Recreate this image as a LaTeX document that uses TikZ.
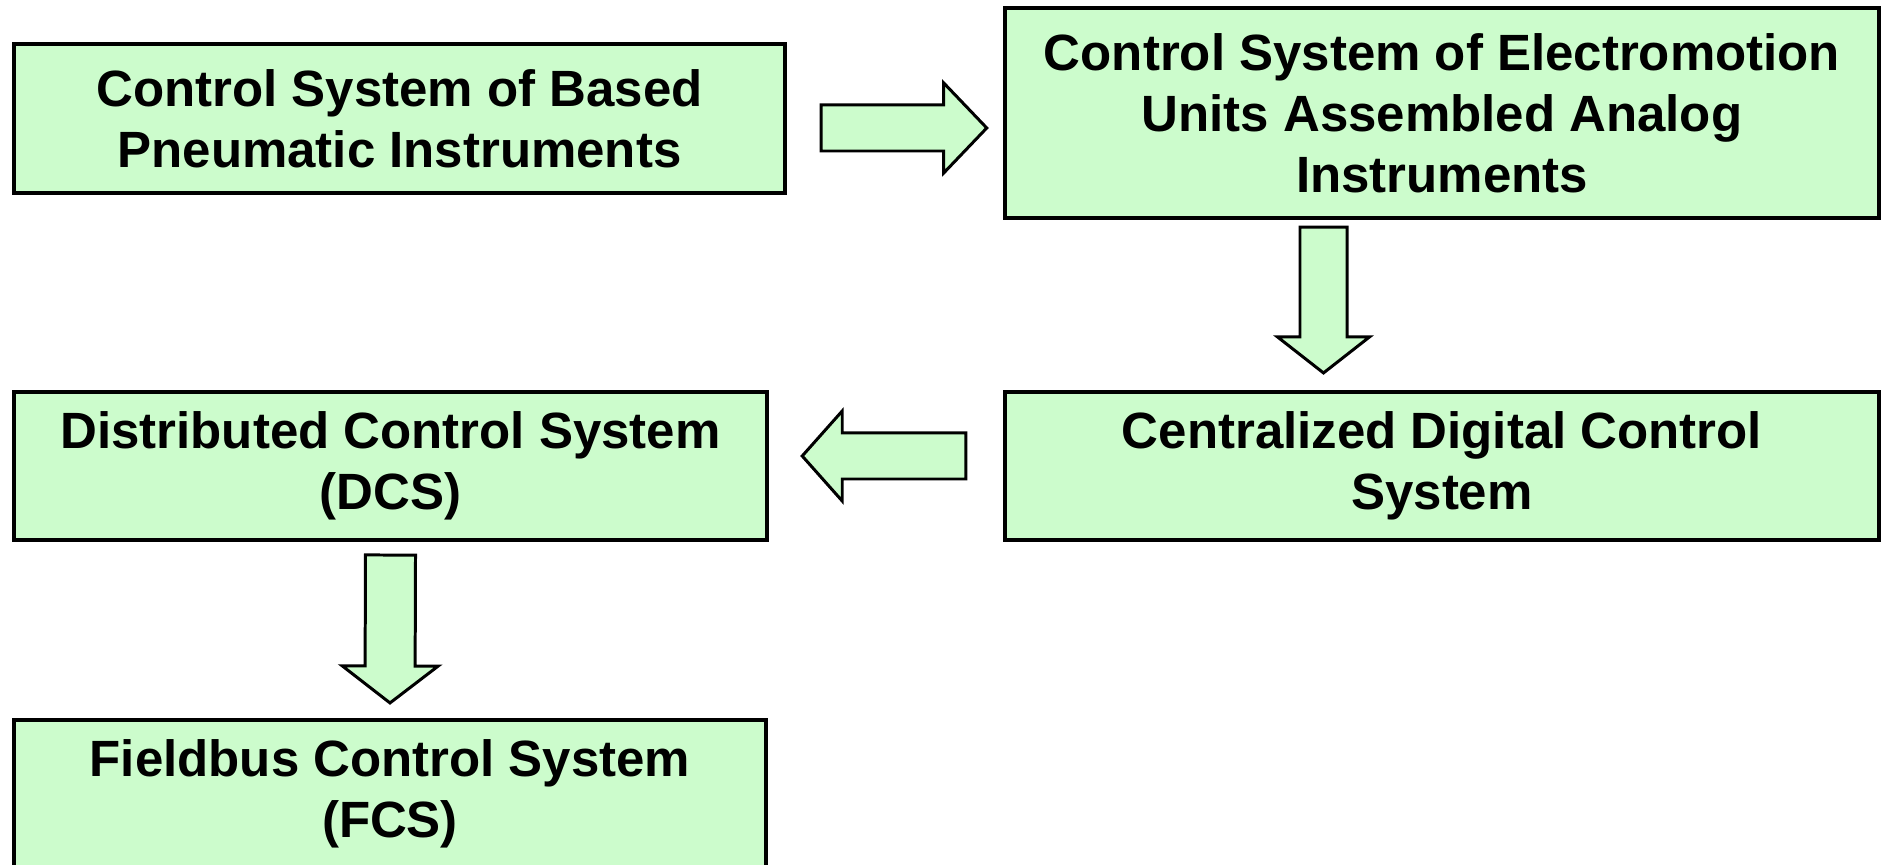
\documentclass[tikz,border=0pt]{standalone}
\usepackage{fontspec}
\setmainfont{Liberation Sans}
\usetikzlibrary{calc}
\definecolor{boxgreen}{RGB}{204,252,204}
\tikzset{
  stage/.style={draw=black, line width=1.1pt, fill=boxgreen, align=center,
    inner sep=0pt, outer sep=0pt,
    font=\fontsize{14.5}{17.4}\selectfont\bfseries},
  flowarrow/.style={draw=black, line width=0.85pt, fill=boxgreen, line join=miter},
}
% block arrow: #1 tail, #2 tip, #3 shaft half width, #4 head half width, #5 head length
\newcommand\blockarrow[5]{%
  \coordinate (ba-t) at (#1);
  \coordinate (ba-p) at (#2);
  \coordinate (ba-h) at ($(ba-p)!#5!(ba-t)$);
  \draw[flowarrow]
    ($(ba-t)!#3!90:(ba-p)$) -- ($(ba-h)!#3!-90:(ba-t)$) -- ($(ba-h)!#4!-90:(ba-t)$)
    -- (ba-p)
    -- ($(ba-h)!#4!90:(ba-t)$) -- ($(ba-h)!#3!90:(ba-t)$) -- ($(ba-t)!#3!-90:(ba-p)$)
    -- cycle;
}
\begin{document}
\begin{tikzpicture}[x=0.01cm, y=-0.01cm]
\fill[white] (0,0) rectangle (1881,865);
\clip (0,0) rectangle (1881,865);

% stages
\node[stage, minimum width=7.71cm, minimum height=1.49cm] (b1) at (399.5,118.5)
  {Control System of Based\\Pneumatic Instruments};
\node[stage, minimum width=8.74cm, minimum height=2.10cm] (b2) at (1442,113)
  {Control System of Electromotion\\Units Assembled Analog\\Instruments};
\node[stage, minimum width=8.74cm, minimum height=1.48cm] (b4) at (1442,466)
  {Centralized Digital Control\\System};
\node[stage, minimum width=7.53cm, minimum height=1.48cm] (b3) at (390.5,466)
  {Distributed Control System\\(DCS)};
\node[stage, minimum width=7.52cm, minimum height=1.48cm] (b5) at (390,794)
  {Fieldbus Control System\\(FCS)};

% transitions between stages
\blockarrow{$(b1.east)+(36,9.5)$}{$(b2.west)+(-18,15)$}{0.23cm}{0.45cm}{0.43cm}
\blockarrow{$(b2.south)+(-118.5,9)$}{$(b4.north)+(-118.5,-19)$}{0.235cm}{0.46cm}{0.36cm}
\blockarrow{$(b4.west)+(-39,-10)$}{$(b3.east)+(35,-10)$}{0.23cm}{0.45cm}{0.40cm}
\blockarrow{$(b3.south)+(0,15)$}{$(b5.north)+(0,-17)$}{0.25cm}{0.48cm}{0.37cm}
\end{tikzpicture}
\end{document}
